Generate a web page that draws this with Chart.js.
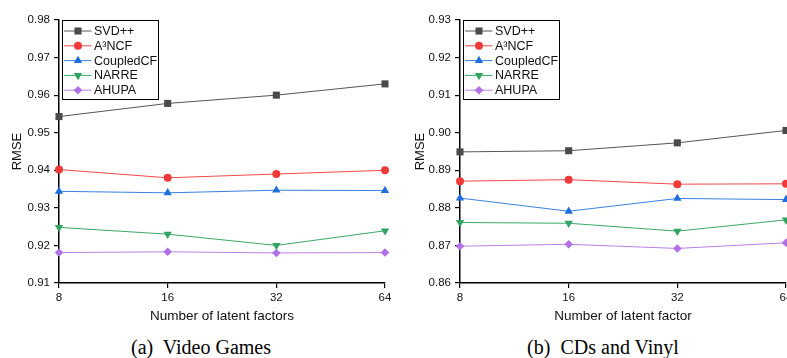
<!DOCTYPE html>
<html>
<head>
<meta charset="utf-8">
<script src="https://cdn.jsdelivr.net/npm/chart.js"></script>
<style>
  html, body { margin: 0; padding: 0; background: #fff; overflow: hidden; width: 787px; height: 358px; }
  .wrap { position: absolute; top: 0; }
  .cap { position: absolute; top: 336px; font: 20px "Liberation Serif", "Times New Roman", serif; color: #000; white-space: pre; transform: translateX(-50%); }
</style>
</head>
<body>
<div class="wrap" style="left:0px"><canvas id="games" width="400" height="330"></canvas></div>
<div class="wrap" style="left:400px"><canvas id="cds" width="400" height="330"></canvas></div>
<div class="cap" style="left:201px">(a)  Video Games</div>
<div class="cap" style="left:603px">(b)  CDs and Vinyl</div>
<script>
const factors = ['8', '16', '32', '64'];
const methods = ['SVD++', 'A³NCF', 'CoupledCF', 'NARRE', 'AHUPA'];

// Video Games
const gamesSVD = [0.9543, 0.9578, 0.9600, 0.9630];
const gamesA3NCF = [0.9402, 0.9380, 0.9390, 0.9400];
const gamesCoupledCF = [0.9344, 0.9340, 0.9347, 0.9346];
const gamesNARRE = [0.9248, 0.9230, 0.9200, 0.9239];
const gamesAHUPA = [0.9181, 0.9183, 0.9180, 0.9181];
const gamesTicks = [0.91, 0.92, 0.93, 0.94, 0.95, 0.96, 0.97, 0.98];

// CDs and Vinyl
const cdsSVD = [0.8949, 0.8952, 0.8973, 0.9006];
const cdsA3NCF = [0.8871, 0.8875, 0.8863, 0.8864];
const cdsCoupledCF = [0.8826, 0.8791, 0.8825, 0.8822];
const cdsNARRE = [0.8761, 0.8759, 0.8738, 0.8768];
const cdsAHUPA = [0.8698, 0.8703, 0.8692, 0.8707];
const cdsTicks = [0.86, 0.87, 0.88, 0.89, 0.90, 0.91, 0.92, 0.93];

const styles = [
  { line: '#555555', fill: '#4a4a4a', shape: 'rect', r: 5, rot: 0 },
  { line: '#f04848', fill: '#f03a3a', shape: 'circle', r: 4, rot: 0 },
  { line: '#3a7fe0', fill: '#1f6ee0', shape: 'triangle', r: 4.8, rot: 0 },
  { line: '#3aa868', fill: '#2fa35f', shape: 'triangle', r: 4.8, rot: 180 },
  { line: '#b880e8', fill: '#b070e6', shape: 'rectRot', r: 4.3, rot: 0 }
];

const sans = '"Liberation Sans", Arial, sans-serif';

const legendBox = {
  id: 'legendBox',
  afterDatasetsDraw(chart) {
    const { ctx, chartArea } = chart;
    const x0 = chartArea.left + 3.5, y0 = chartArea.top + 0.5, w = 96, h = 79;
    ctx.save();
    ctx.fillStyle = '#fff';
    ctx.fillRect(x0, y0, w, h);
    ctx.strokeStyle = '#000';
    ctx.lineWidth = 1;
    ctx.strokeRect(x0, y0, w, h);
    chart.data.datasets.forEach((ds, i) => {
      const y = y0 + 10.5 + i * 14.8;
      ctx.strokeStyle = ds.borderColor;
      ctx.lineWidth = 1;
      ctx.beginPath();
      ctx.moveTo(x0 + 1.5, y);
      ctx.lineTo(x0 + 29, y);
      ctx.stroke();
      ctx.fillStyle = ds.pointBackgroundColor;
      Chart.helpers.drawPoint(ctx, {
        pointStyle: ds.pointStyle, radius: ds.pointRadius,
        rotation: ds.pointRotation || 0, borderWidth: 0
      }, x0 + 15.5, y);
      ctx.fillStyle = '#111';
      ctx.font = '12.5px ' + sans;
      ctx.textBaseline = 'middle';
      ctx.textAlign = 'left';
      ctx.fillText(ds.label, x0 + 31.5, y + 0.5);
    });
    ctx.restore();
  }
};

function makeChart(id, series, ticks, xTitle, yWidth, yTitlePad) {
  const datasets = series.map((vals, i) => ({
    label: methods[i],
    data: vals,
    borderColor: styles[i].line,
    borderWidth: 1,
    pointBackgroundColor: styles[i].fill,
    pointBorderWidth: 0,
    pointStyle: styles[i].shape,
    pointRadius: styles[i].r,
    pointRotation: styles[i].rot,
    tension: 0,
    clip: false
  }));
  return new Chart(document.getElementById(id), {
    type: 'line',
    data: { labels: factors, datasets },
    plugins: [legendBox],
    options: {
      responsive: false,
      animation: false,
      devicePixelRatio: 1,
      layout: { padding: { left: 0, right: 400 - yWidth - 326, top: 20, bottom: 0 } },
      plugins: { legend: { display: false }, tooltip: { enabled: false } },
      scales: {
        x: {
          type: 'category',
          offset: false,
          afterFit: s => { s.height = 47; },
          grid: { drawOnChartArea: false, offset: false, color: '#000', tickLength: 5, lineWidth: 1.2 },
          border: { color: '#000', width: 1.5 },
          ticks: { color: '#111', font: { family: sans, size: 11.5 }, padding: 3, maxRotation: 0 },
          title: { display: true, text: xTitle, color: '#111', font: { family: sans, size: 13.5 }, padding: { top: 0, bottom: 6 } }
        },
        y: {
          min: ticks[0],
          max: ticks[ticks.length - 1],
          afterFit: s => { s.width = yWidth; },
          afterBuildTicks: s => { s.ticks = ticks.map(v => ({ value: v })); },
          grid: { drawOnChartArea: false, color: '#000', tickLength: 5, lineWidth: 1.2 },
          border: { color: '#000', width: 1.5 },
          ticks: { color: '#111', font: { family: sans, size: 11.5 }, padding: 4, callback: v => v.toFixed(2) },
          title: { display: true, text: 'RMSE', color: '#111', font: { family: sans, size: 13 }, padding: { top: yTitlePad, bottom: 0 } }
        }
      }
    }
  });
}

makeChart('games', [gamesSVD, gamesA3NCF, gamesCoupledCF, gamesNARRE, gamesAHUPA],
  gamesTicks, 'Number of latent factors', 59, 10);
makeChart('cds', [cdsSVD, cdsA3NCF, cdsCoupledCF, cdsNARRE, cdsAHUPA],
  cdsTicks, 'Number of latent factor', 60, 13);
</script>
</body>
</html>
